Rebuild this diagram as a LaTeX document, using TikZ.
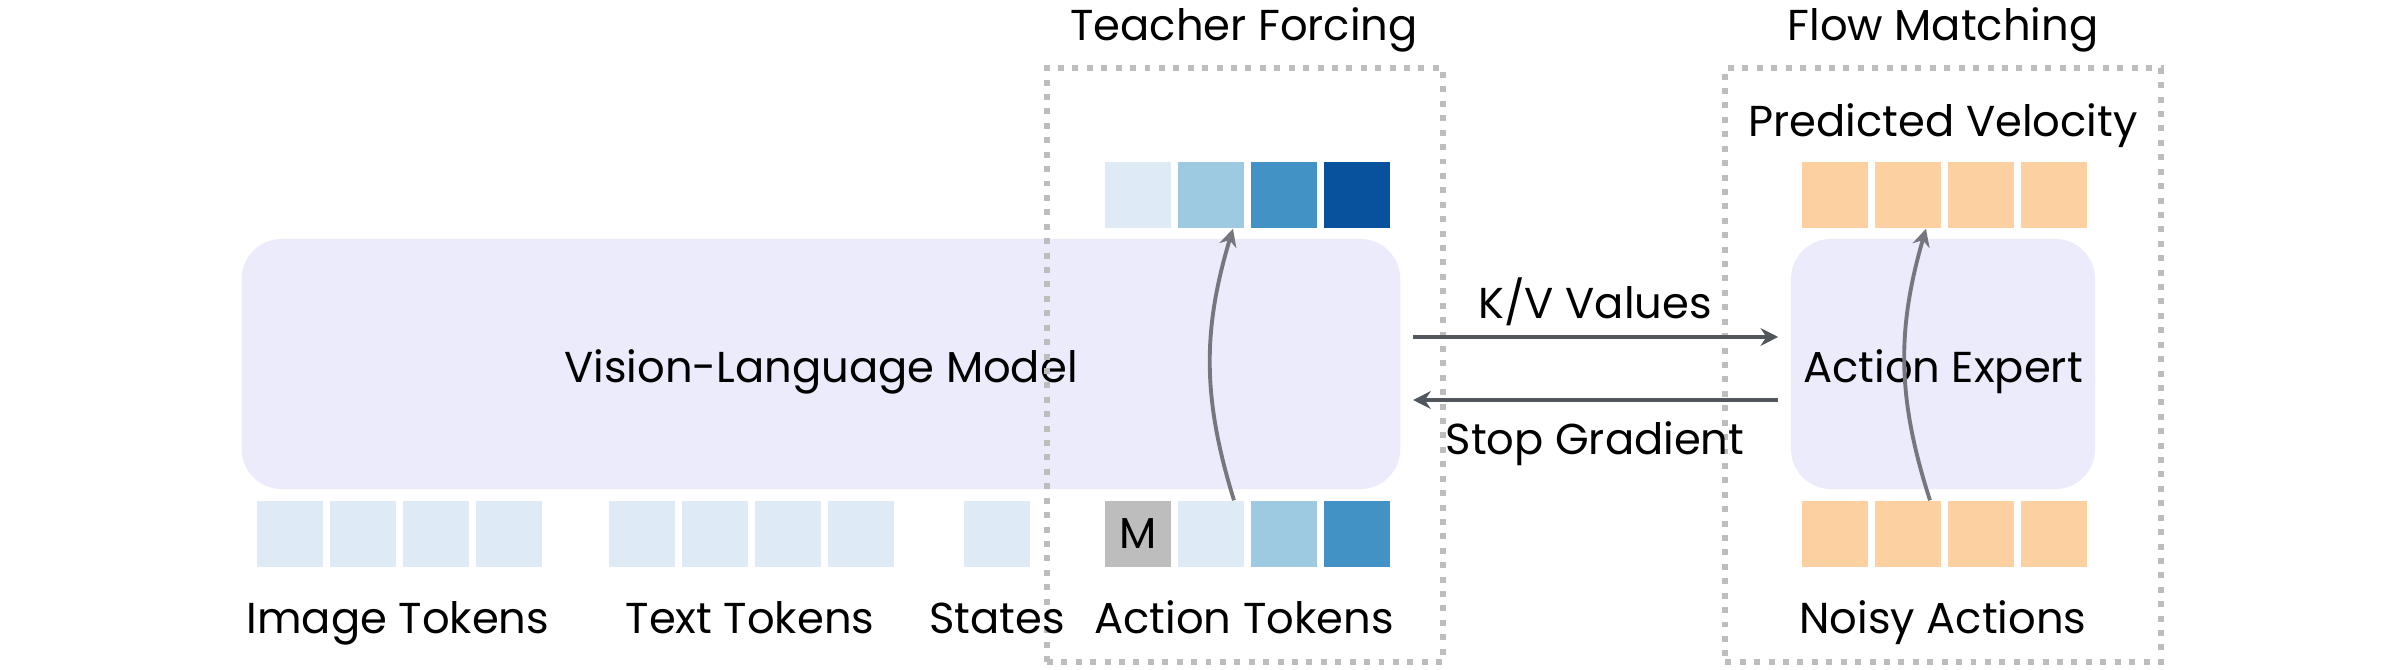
\documentclass[tikz,border=0pt]{standalone}
\usepackage{fontspec}
\setmainfont{Poppins}
\usetikzlibrary{positioning,arrows.meta}
\definecolor{vlmfill}{HTML}{EBEBFC}
\definecolor{blueA}{HTML}{DEEBF7}
\definecolor{blueB}{HTML}{9ECAE1}
\definecolor{blueC}{HTML}{4292C6}
\definecolor{blueD}{HTML}{08519C}
\definecolor{maskgray}{HTML}{BDBDBD}
\definecolor{noisefill}{HTML}{FDD0A2}
\definecolor{framegray}{HTML}{BDBDBD}
\definecolor{arrowdark}{HTML}{52575E}
\definecolor{arrowgray}{HTML}{76777E}
\tikzset{
  >={Stealth[length=5pt,width=5pt]},
  token/.style={
    rectangle,
    fill=#1,
    inner sep=0pt,
    minimum width=0.66cm,
    minimum height=0.66cm},
  model/.style={
    rectangle,
    rounded corners=0.4cm,
    fill=vlmfill,
    inner sep=0pt,
    text height=10.8pt,
    text depth=0pt,
    minimum height=2.5cm},
  frame/.style={
    rectangle,
    draw=framegray,
    line width=1.7pt,
    dash pattern=on 1.7pt off 2.4pt,
    minimum height=5.94cm},
  caption/.style={anchor=base},
  pass/.style={->, draw=arrowdark, line width=1pt},
  teach/.style={->, draw=arrowgray, line width=1.1pt},
}

\begin{document}
\begin{tikzpicture}[x=0.01cm, y=0.01cm, node distance=0.055cm]
\fontsize{12.3pt}{15pt}\selectfont
\useasboundingbox (0,0) rectangle (2400,669);

% the two models
\node[model, minimum width=11.58cm] (VLM) at (821,305) {Vision-Language Model};
\node[model, minimum width=3.04cm] (AE) at (1943,305) {Action Expert};

% input tokens of the VLM
\node[token=blueA] (img1) at (290,135) {};
\node[token=blueA, right=of img1] (img2) {};
\node[token=blueA, right=of img2] (img3) {};
\node[token=blueA, right=of img3] (img4) {};
\node[token=blueA] (txt1) at (642,135) {};
\node[token=blueA, right=of txt1] (txt2) {};
\node[token=blueA, right=of txt2] (txt3) {};
\node[token=blueA, right=of txt3] (txt4) {};
\node[token=blueA] (state) at (997,135) {};
\node[token=maskgray] (act1) at (1138,135) {M};
\node[token=blueA, right=of act1] (act2) {};
\node[token=blueB, right=of act2] (act3) {};
\node[token=blueC, right=of act3] (act4) {};

% outputs of the VLM
\node[token=blueA] (out1) at (1138,474) {};
\node[token=blueB, right=of out1] (out2) {};
\node[token=blueC, right=of out2] (out3) {};
\node[token=blueD, right=of out3] (out4) {};

% noisy actions and velocity
\node[token=noisefill] (noise1) at (1835,135) {};
\node[token=noisefill, right=of noise1] (noise2) {};
\node[token=noisefill, right=of noise2] (noise3) {};
\node[token=noisefill, right=of noise3] (noise4) {};
\node[token=noisefill] (vel1) at (1835,474) {};
\node[token=noisefill, right=of vel1] (vel2) {};
\node[token=noisefill, right=of vel2] (vel3) {};
\node[token=noisefill, right=of vel3] (vel4) {};

% dotted frames
\node[frame, minimum width=3.96cm] (TF) at (1245,304) {};
\node[frame, minimum width=4.35cm] (FM) at (1943,304) {};

% captions
\node[caption] (TFcap) at (1244,628) {Teacher Forcing};
\node[caption] (FMcap) at (1943,628) {Flow Matching};
\node[caption] (PVcap) at (1943,532) {Predicted Velocity};
\node[caption] (imgcap) at (398,36) {Image Tokens};
\node[caption] (txtcap) at (750,36) {Text Tokens};
\node[caption] (statecap) at (997,36) {States};
\node[caption] (actcap) at (1244,36) {Action Tokens};
\node[caption] (noisecap) at (1943,36) {Noisy Actions};
\node[caption] (KVcap) at (1595,351) {K/V Values};
\node[caption] (SGcap) at (1595,215) {Stop Gradient};

% connectors
\draw[pass, shorten <=0.12cm, shorten >=0.12cm]
  ([yshift=0.27cm]VLM.east) -- ([yshift=0.27cm]AE.west);
\draw[pass, shorten <=0.12cm, shorten >=0.12cm]
  ([yshift=-0.36cm]AE.west) -- ([yshift=-0.36cm]VLM.east);
\draw[teach] ([xshift=0.23cm]act2.north) to[bend left=17] ([xshift=0.22cm]out2.south);
\draw[teach] ([xshift=0.22cm]noise2.north) to[bend left=17] ([xshift=0.18cm]vel2.south);
\end{tikzpicture}
\end{document}
